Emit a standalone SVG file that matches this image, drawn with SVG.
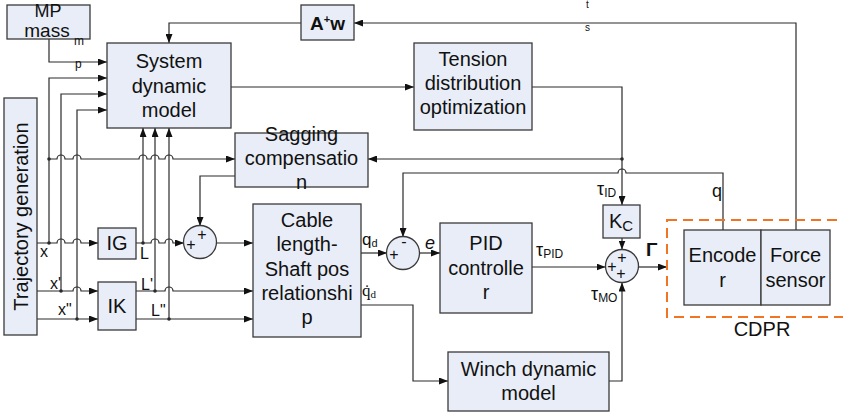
<svg xmlns="http://www.w3.org/2000/svg" width="843" height="414" viewBox="0 0 843 414">
<style>
.box{fill:#E8EDF7;stroke:#3a3a3a;stroke-width:1.3}
.t{font-family:"Liberation Sans",Arial,sans-serif;font-size:20px;fill:#111;text-anchor:middle}
.lb{font-family:"Liberation Sans",Arial,sans-serif;font-size:16px;fill:#111}
.sm{font-family:"Liberation Sans",Arial,sans-serif;font-size:11px;fill:#111}
.pm{font-family:"Liberation Sans",Arial,sans-serif;font-size:16px;fill:#111;text-anchor:middle}
.c{fill:none;stroke:#2a2a2a;stroke-width:1.2}
.a{marker-end:url(#ar)}
.dot{fill:#2a2a2a}
</style>
<defs>
<marker id="ar" markerUnits="userSpaceOnUse" markerWidth="9" markerHeight="7" refX="9" refY="3.5" orient="auto">
<path d="M0,0 L9,3.5 L0,7 z" fill="#111"/>
</marker>
</defs>

<g id="connectors">
<path class="c a" d="M49 39 V62 H107"/>
<path class="c a" d="M37 243 H57 A4 4 0 0 1 65 243 H73 A4 4 0 0 1 81 243 H98"/>
<path class="c a" d="M49 243 V78 H107"/>
<path class="c a" d="M49 159 H57 A4 4 0 0 1 65 159 H73 A4 4 0 0 1 81 159 H139 A4 4 0 0 1 147 159 H151 A4 4 0 0 1 159 159 H165 A4 4 0 0 1 173 159 H235"/>
<path class="c a" d="M37 291 H73 A4 4 0 0 1 81 291 H98"/>
<path class="c a" d="M61 291 V94 H107"/>
<path class="c a" d="M37 319 H98"/>
<path class="c a" d="M77 319 V110 H107"/>
<path class="c a" d="M136 243 H151 A4 4 0 0 1 159 243 H165 A4 4 0 0 1 173 243 H184"/>
<path class="c a" d="M143 243 V128"/>
<path class="c a" d="M136 291 H165 A4 4 0 0 1 173 291 H253"/>
<path class="c a" d="M155 291 V128"/>
<path class="c a" d="M136 319 H253"/>
<path class="c a" d="M169 319 V128"/>
<path class="c a" d="M235 176 H200 V226"/>
<path class="c a" d="M216 243 H253"/>
<path class="c a" d="M231 87 H414"/>
<path class="c a" d="M532 87 H622 V205"/>
<path class="c a" d="M622 159 H368"/>
<path class="c a" d="M622 238 V249.5"/>
<path class="c a" d="M796 230 V23 H354"/>
<path class="c a" d="M301 23 H169 V43"/>
<path class="c a" d="M723 230 V173 H626 A4 4 0 0 0 618 173 H403 V237"/>
<path class="c a" d="M361 253 H387"/>
<path class="c a" d="M419 253 H440"/>
<path class="c a" d="M532 267 H605.5"/>
<path class="c a" d="M638 267 H667"/>
<path class="c a" d="M361 305 H413 V381 H448"/>
<path class="c a" d="M609 381 H622 V282.5"/>
<circle class="dot" cx="49" cy="243" r="1.8"/>
<circle class="dot" cx="49" cy="159" r="1.8"/>
<circle class="dot" cx="61" cy="291" r="1.8"/>
<circle class="dot" cx="77" cy="319" r="1.8"/>
<circle class="dot" cx="143" cy="243" r="1.8"/>
<circle class="dot" cx="155" cy="291" r="1.8"/>
<circle class="dot" cx="169" cy="319" r="1.8"/>
<circle class="dot" cx="622" cy="159" r="1.8"/>
</g>

<g id="mp-mass">
<rect class="box" x="7" y="5" width="83" height="34"/>
<text class="t" x="48" y="17" style="font-size:18px">MP</text>
<text class="t" x="47" y="37" style="font-size:19px">mass</text>
<text class="lb" x="74" y="45" style="font-size:12px">m</text>
<text class="lb" x="75" y="68" style="font-size:12px">p</text>
</g>

<g id="aw">
<rect class="box" x="301" y="5" width="53" height="35"/>
<text class="t" x="327.5" y="30" style="font-weight:bold;font-size:19px">A<tspan dy="-7" style="font-size:11px">+</tspan><tspan dy="7">w</tspan></text>
</g>

<g id="ts-labels">
<text class="sm" x="586" y="8" style="font-size:10px">t</text>
<text class="sm" x="585" y="31" style="font-size:10px">s</text>
</g>

<g id="system-dynamic-model">
<rect class="box" x="107" y="43" width="124" height="85"/>
<text class="t" x="169" y="68">System</text>
<text class="t" x="169" y="92.5">dynamic</text>
<text class="t" x="169" y="117">model</text>
</g>

<g id="tension">
<rect class="box" x="414" y="43" width="118" height="87"/>
<text class="t" x="473" y="66">Tension</text>
<text class="t" x="473" y="90">distribution</text>
<text class="t" x="473" y="114">optimization</text>
</g>

<g id="trajectory">
<rect class="box" x="4" y="98" width="33" height="237"/>
<text class="t" transform="translate(28,216.5) rotate(-90)">Trajectory generation</text>
</g>

<g id="sagging">
<rect class="box" x="235" y="133" width="133" height="54"/>
<text class="t" x="301.5" y="141">Sagging</text>
<text class="t" x="301.5" y="165">compensatio</text>
<text class="t" x="301.5" y="189">n</text>
</g>

<g id="ig">
<rect class="box" x="98" y="228" width="38" height="31"/>
<text class="t" x="117" y="250">IG</text>
</g>

<g id="ik">
<rect class="box" x="98" y="282" width="38" height="48"/>
<text class="t" x="117" y="313">IK</text>
</g>

<g id="sum1">
<circle class="box" cx="200" cy="242" r="16.5"/>
<text class="pm" x="202" y="240">+</text>
<text class="pm" x="191" y="250">+</text>
</g>

<g id="cable">
<rect class="box" x="253" y="204" width="108" height="133"/>
<text class="t" x="307" y="227">Cable</text>
<text class="t" x="307" y="251">length-</text>
<text class="t" x="307" y="276">Shaft pos</text>
<text class="t" x="307" y="300">relationshi</text>
<text class="t" x="307" y="324">p</text>
</g>

<g id="sum2">
<circle class="box" cx="403" cy="253" r="16.5"/>
<text class="pm" x="404" y="247">-</text>
<text class="pm" x="394" y="260">+</text>
</g>

<g id="pid">
<rect class="box" x="440" y="223" width="92" height="90"/>
<text class="t" x="486" y="250">PID</text>
<text class="t" x="486" y="275">controlle</text>
<text class="t" x="486" y="299">r</text>
</g>

<g id="kc">
<rect class="box" x="603" y="205" width="37" height="33"/>
<text class="t" x="609" y="228" style="text-anchor:start">K<tspan dy="3" style="font-size:15px">C</tspan></text>
</g>

<g id="sum3">
<circle class="box" cx="622" cy="266" r="16.5"/>
<text class="pm" x="622" y="263">+</text>
<text class="pm" x="612" y="272">+</text>
<text class="pm" x="621" y="279">+</text>
</g>

<g id="winch">
<rect class="box" x="448" y="352" width="161" height="59"/>
<text class="t" x="528.5" y="376">Winch dynamic</text>
<text class="t" x="528.5" y="400">model</text>
</g>

<g id="cdpr">
<rect x="667" y="220" width="200" height="97" fill="none" stroke="#F07522" stroke-width="2" stroke-dasharray="10 6"/>
<rect class="box" x="684" y="230" width="77" height="75"/>
<rect class="box" x="761" y="230" width="69" height="75"/>
<text class="t" x="722.5" y="262">Encode</text>
<text class="t" x="722.5" y="287">r</text>
<text class="t" x="795.5" y="262">Force</text>
<text class="t" x="795.5" y="287">sensor</text>
<text class="t" x="762" y="336">CDPR</text>
</g>

<g id="labels">
<text class="lb" x="40" y="257">x</text>
<text class="lb" x="50" y="289">x'</text>
<text class="lb" x="58" y="315">x"</text>
<text class="lb" x="140" y="259">L</text>
<text class="lb" x="141" y="290">L'</text>
<text class="lb" x="151" y="316">L"</text>
<text class="lb" x="362" y="245" style="font-size:17px">q<tspan dy="2" style="font-size:11px">d</tspan></text>
<text x="362" y="296" style="font-family:'Liberation Serif',serif;font-size:17px;fill:#111">q̇<tspan dy="2" style="font-size:11px">d</tspan></text>
<text class="lb" x="425" y="249" style="font-size:18px;font-style:italic">e</text>
<text class="lb" x="536" y="256" style="font-size:18px">τ<tspan dy="2" style="font-size:12px">PID</tspan></text>
<text class="lb" x="597" y="195" style="font-size:18px">τ<tspan dy="2" style="font-size:12px">ID</tspan></text>
<text class="lb" x="591" y="300" style="font-size:18px">τ<tspan dy="2" style="font-size:12px">MO</tspan></text>
<text class="lb" x="712" y="197" style="font-size:18px">q</text>
<text class="lb" x="646" y="256" style="font-size:19px;font-weight:bold">Γ</text>
</g>
</svg>
